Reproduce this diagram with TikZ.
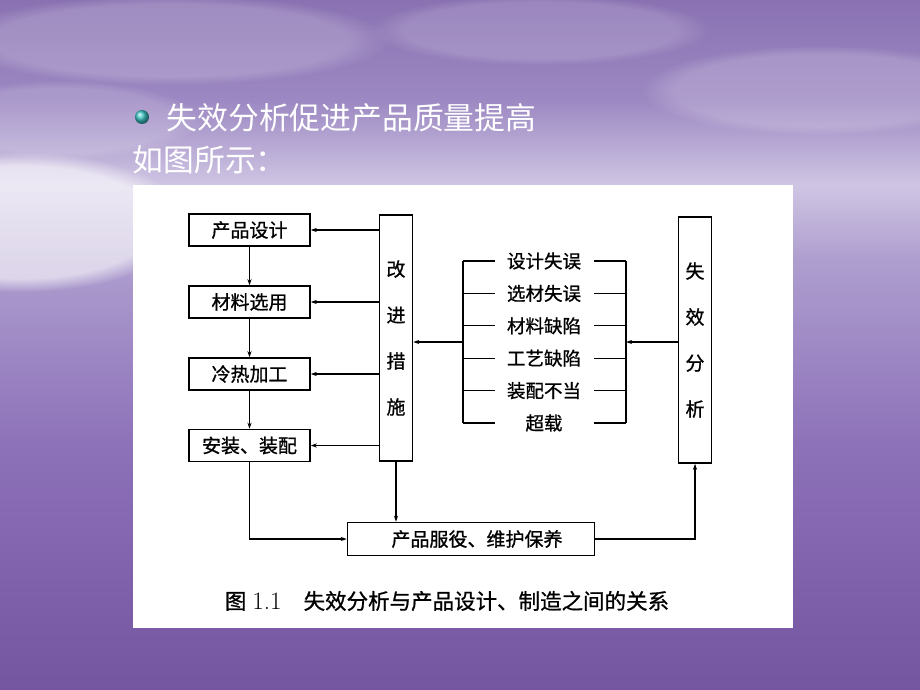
\documentclass[tikz,border=0pt]{standalone}
\usepackage{fontspec}
\newfontfamily\cjk{Noto Sans CJK SC}
\newfontfamily\cjkm[FakeBold=0.9]{Noto Sans CJK SC}
\usetikzlibrary{arrows.meta,fadings}

\definecolor{skytop}{HTML}{8A72B2}
\definecolor{skymid}{HTML}{9C88C2}
\definecolor{horizon}{HTML}{CFC5E3}
\definecolor{seahigh}{HTML}{AE9ECF}
\definecolor{seamid}{HTML}{8C70B8}
\definecolor{seabot}{HTML}{7455A0}
\definecolor{bulletc}{HTML}{3CC4C4}

\pgfdeclareverticalshading{seasky}{100bp}{color(0bp)=(seabot); color(25bp)=(seabot); color(42.4bp)=(seamid); color(56.2bp)=(seahigh); color(61.6bp)=(horizon); color(67.8bp)=(skymid); color(75bp)=(skytop); color(100bp)=(skytop)}

\begin{document}
\begin{tikzpicture}[x=1pt,y=-1pt,>={Stealth[length=6pt,width=4pt]},line width=1.3pt]
\tikzstyle{box}=[draw=black,line width=1.5pt,fill=white,minimum width=121pt,minimum height=32pt,inner sep=0pt,font=\cjkm\fontsize{19}{19}\selectfont]
\tikzstyle{tall}=[box,minimum width=33pt,minimum height=246pt,align=center,font=\cjkm\fontsize{19}{46}\selectfont]
\tikzstyle{item}=[inner sep=0pt,font=\cjkm\fontsize{18.5}{18.5}\selectfont]
\tikzstyle{title}=[anchor=west,inner sep=0pt,text=white,font=\cjk\fontsize{30.8}{30.8}\selectfont]
\tikzstyle{cloud}=[white,path fading=circle with fuzzy edge 20 percent]

% background
\useasboundingbox (0,0) rectangle (920,690);
\shade[shading=seasky] (0,0) rectangle (920,690);
\fill[cloud,opacity=0.6] (20,222) ellipse (170 and 70);
\fill[cloud,opacity=0.18] (170,40) ellipse (220 and 45);
\fill[cloud,opacity=0.15] (540,30) ellipse (170 and 35);
\fill[cloud,opacity=0.18] (820,90) ellipse (180 and 45);
\fill[cloud,opacity=0.15] (60,120) ellipse (140 and 40);

% heading
\shade[ball color=bulletc] (142,117) circle (7);
\node[title] (head) at (166,118) {失效分析促进产品质量提高};
\node[title] (sub) at (132,160) {如图所示：};

% figure panel
\fill[white] (133,185) rectangle (793,628);

\node[box] (sj) at (249.5,230) {产品设计};
\node[box] (cl) at (249.5,302) {材料选用};
\node[box] (jg) at (249.5,374) {冷热加工};
\node[box] (az) at (249.5,445.5) {安装、装配};
\node[tall] (gj) at (396,338) {改\\进\\措\\施};
\node[tall] (fx) at (695,340) {失\\效\\分\\析};
\node[box,minimum width=247pt,minimum height=33pt] (fw) at (471,539) {\hspace{12pt}产品服役、维护保养};

% causes
\foreach \t [count=\i] in {设计失误,选材失误,材料缺陷,工艺缺陷,装配不当,超载} {
  \node[item] (e\i) at (544,{261+32.4*(\i-1)}) {\t};
  \draw (463,{261+32.4*(\i-1)}) -- (495,{261+32.4*(\i-1)});
  \draw (594,{261+32.4*(\i-1)}) -- (626,{261+32.4*(\i-1)});
}
\draw (463,261) -- (463,423);
\draw (626,261) -- (626,423);
\coordinate (bl) at (463,342);
\coordinate (br) at (626,342);

% connectors
\draw[->] (br -| fx.west) -- (br);
\draw[->] (bl) -- (bl -| gj.east);
\foreach \n in {sj,cl,jg,az}
  \draw[->] (gj.west |- \n.east) -- (\n.east);
\draw[->] (sj.south) -- (cl.north);
\draw[->] (cl.south) -- (jg.north);
\draw[->] (jg.south) -- (az.north);
\draw[->] (az.south) |- (fw.west);
\draw[->] (gj.south) -- (gj.south |- fw.north);
\draw[->] (fw.east) -| (fx.south);

\node[font=\cjkm\fontsize{21.5}{21.5}\selectfont] (cap) at (447,601) {图\hspace{6pt}{\rmfamily\fontsize{25}{25}\selectfont 1.1}\hspace{22pt}失效分析与产品设计、制造之间的关系};
\end{tikzpicture}
\end{document}
